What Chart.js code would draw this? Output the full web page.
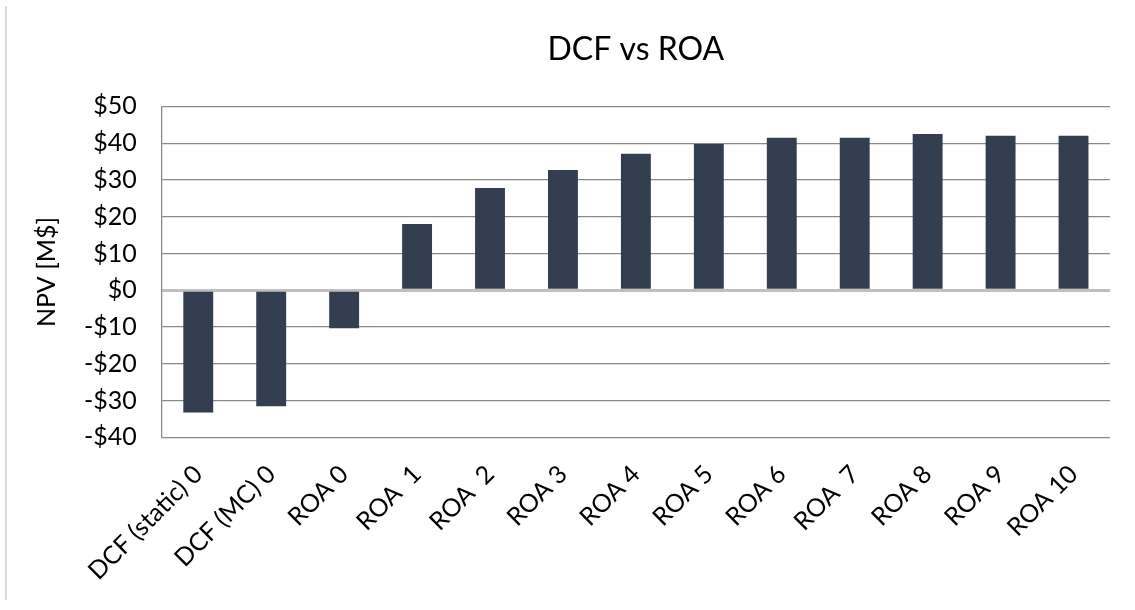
<!DOCTYPE html>
<html>
<head>
<meta charset="utf-8">
<script src="https://cdn.jsdelivr.net/npm/chart.js@4.4.1/dist/chart.umd.min.js"></script>
<style>
    body { margin: 0; background: #fff; }
    #wrap { position: relative; width: 1135px; height: 610px; }
    #edge { position: absolute; left: 5px; top: 6px; width: 2px; height: 594px; background: #d9d9d9; }
</style>
</head>
<body>
<div id="wrap">
    <div id="edge"></div>
    <canvas id="npvChart" width="1135" height="610"></canvas>
</div>
<script>
// Values (M$)
const categories = ['DCF (static) 0', 'DCF (MC) 0', 'ROA 0', 'ROA  1', 'ROA  2', 'ROA 3', 'ROA 4', 'ROA 5', 'ROA 6', 'ROA  7', 'ROA 8', 'ROA 9', 'ROA 10'];
const npvValues = [-33.2, -31.5, -10.3, 18.0, 27.8, 32.7, 37.1, 39.8, 41.5, 41.5, 42.5, 42.0, 42.0];
const yTicks = [-40, -30, -20, -10, 0, 10, 20, 30, 40, 50];

const fontFamily = 'Lato, "Noto Sans", sans-serif';
const barColor = '#333f50';

new Chart(document.getElementById('npvChart'), {
    type: 'bar',
    data: {
        labels: categories,
        datasets: [{
            label: 'NPV',
            data: npvValues,
            backgroundColor: barColor,
            categoryPercentage: 1,
            barPercentage: 0.41
        }]
    },
    options: {
        responsive: false,
        animation: false,
        layout: { padding: { left: 34, right: 25, top: 10, bottom: 10 } },
        plugins: {
            legend: { display: false },
            tooltip: { enabled: false },
            title: {
                display: true,
                text: 'DCF vs ROA',
                fullSize: false, // center over the plot area
                color: '#000',
                font: { family: fontFamily, size: 32, weight: 'normal' },
                padding: { top: 20, bottom: 38 }
            }
        },
        scales: {
            y: {
                min: -40,
                max: 50,
                afterBuildTicks: axis => { axis.ticks = yTicks.map(v => ({ value: v })); },
                ticks: {
                    color: '#000',
                    padding: 25,
                    font: { family: fontFamily, size: 25 },
                    callback: v => (v < 0 ? '-$' + Math.abs(v) : '$' + v)
                },
                grid: {
                    color: ctx => (ctx.tick && ctx.tick.value === 0 ? '#bfbfbf' : '#898989'),
                    lineWidth: ctx => (ctx.tick && ctx.tick.value === 0 ? 3 : 1.3),
                    drawTicks: false
                },
                border: { color: '#898989', width: 1.3 },
                title: {
                    display: true,
                    text: 'NPV [M$]',
                    color: '#000',
                    font: { family: fontFamily, size: 25, lineHeight: 1 },
                    padding: { top: 0, bottom: 0 }
                }
            },
            x: {
                grid: { display: false },
                border: { display: false },
                ticks: {
                    color: '#000',
                    minRotation: 45,
                    maxRotation: 45,
                    padding: 14,
                    font: { family: fontFamily, size: 25 }
                }
            }
        }
    }
});
</script>
</body>
</html>
